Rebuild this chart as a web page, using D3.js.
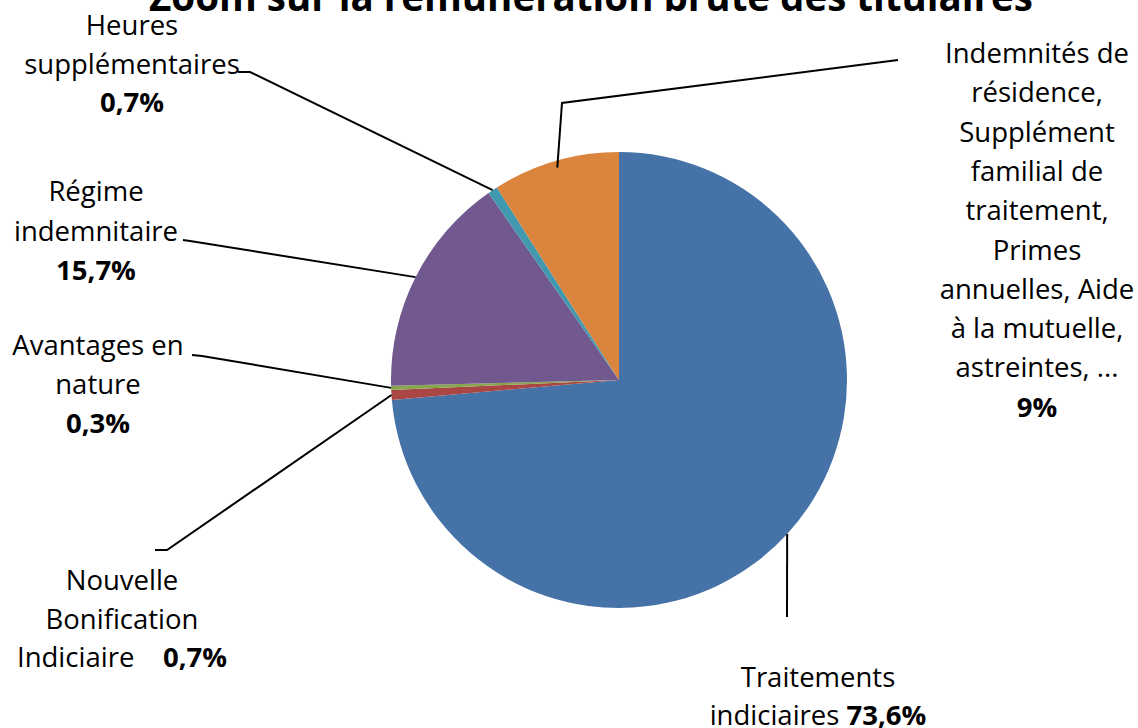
<!DOCTYPE html>
<html lang="fr">
<head>
<meta charset="utf-8">
<script src="https://cdn.jsdelivr.net/npm/d3@7"></script>
<style>
  html, body { margin: 0; padding: 0; background: #fff; }
  svg { display: block; font-family: "Open Sans", "Noto Sans", sans-serif; }
  text, tspan { white-space: pre; }
</style>
</head>
<body>
<svg id="chart" width="1138" height="728"></svg>
<script>
// Répartition de la rémunération brute des titulaires (en %)
const categories = [
  "Traitements indiciaires",
  "Nouvelle Bonification Indiciaire",
  "Avantages en nature",
  "Régime indemnitaire",
  "Heures supplémentaires",
  "Indemnités de résidence, Supplément familial de traitement, Primes annuelles, Aide à la mutuelle, astreintes, ..."
];
const values = [73.6, 0.7, 0.3, 15.7, 0.7, 9];
const valueLabels = ["73,6%", "0,7%", "0,3%", "15,7%", "0,7%", "9%"];
const colors = ["#4572A7", "#AA4643", "#89A54E", "#71588F", "#4198AF", "#DB843D"];

// Texte de chaque étiquette, ligne par ligne ; le pourcentage est ajouté en gras
const labelLines = [
  ["Traitements", "indiciaires "],
  ["Nouvelle", "Bonification", "Indiciaire    "],
  ["Avantages en", "nature", ""],
  ["Régime", "indemnitaire", ""],
  ["Heures", "supplémentaires", ""],
  ["Indemnités de", "résidence,", "Supplément", "familial de", "traitement,", "Primes",
   "annuelles, Aide", "à la mutuelle,", "astreintes, ...", ""]
];

const title = "Zoom sur la rémunération brute des titulaires";

// Mise en page
const width = 1138, height = 728;
const cx = 619, cy = 380, radius = 228;

// Position des étiquettes (centre, première ligne de base, interligne)
// et coudes des traits de rappel
const labelLayout = [
  { x: 818, y: 687, lh: 37.5, elbow: [], end: [787, 617] },
  { x: 122, y: 590, lh: 38.5, elbow: [[167, 550]], end: [155, 550] },
  { x: 98,  y: 355, lh: 39,   elbow: [[202, 356]], end: [192, 355] },
  { x: 96,  y: 201, lh: 39.5, elbow: [[190, 241]], end: [183, 240] },
  { x: 132, y: 35,  lh: 38.5, elbow: [[250, 72]],  end: [238, 72] },
  { x: 1037, y: 63, lh: 39.3, elbow: [[562, 103]], end: [898, 60] }
];
const leaderRadius = [radius, radius, radius, radius, radius, radius * 0.97];

const svg = d3.select("#chart");

const pie = d3.pie().sort(null).value(d => d)(values);
const arc = d3.arc().innerRadius(0).outerRadius(radius);

const g = svg.append("g").attr("transform", `translate(${cx},${cy})`);

g.selectAll("path.slice")
  .data(pie)
  .join("path")
  .attr("class", "slice")
  .attr("d", arc)
  .attr("fill", (d, i) => colors[i]);

// Traits de rappel : du bord de la part vers l'étiquette
const line = d3.line();
svg.append("g")
  .selectAll("path.leader")
  .data(pie)
  .join("path")
  .attr("class", "leader")
  .attr("fill", "none")
  .attr("stroke", "#000")
  .attr("stroke-width", 2)
  .attr("d", (d, i) => {
    const a = (d.startAngle + d.endAngle) / 2;
    const r = leaderRadius[i];
    const start = [cx + r * Math.sin(a), cy - r * Math.cos(a)];
    const L = labelLayout[i];
    return line([start, ...L.elbow, L.end]);
  });

// Étiquettes
const labels = svg.append("g")
  .attr("font-size", 27.5)
  .attr("fill", "#000")
  .attr("text-anchor", "middle");

pie.forEach((d, i) => {
  const L = labelLayout[i];
  const lines = labelLines[i];
  const t = labels.append("text")
    .attr("x", L.x).attr("y", L.y);
  lines.forEach((ln, j) => {
    const isLast = j === lines.length - 1;
    const tsp = t.append("tspan")
      .attr("x", L.x)
      .attr("y", L.y + j * L.lh)
      .text(ln);
    if (isLast) {
      tsp.append("tspan")
        .attr("font-weight", "bold")
        .text(valueLabels[i]);
    }
  });
});

// Titre
svg.append("text")
  .attr("x", 591)
  .attr("y", 11)
  .attr("text-anchor", "middle")
  .attr("font-size", 38.5)
  .attr("font-weight", "bold")
  .attr("fill", "#000")
  .text(title);
</script>
</body>
</html>
